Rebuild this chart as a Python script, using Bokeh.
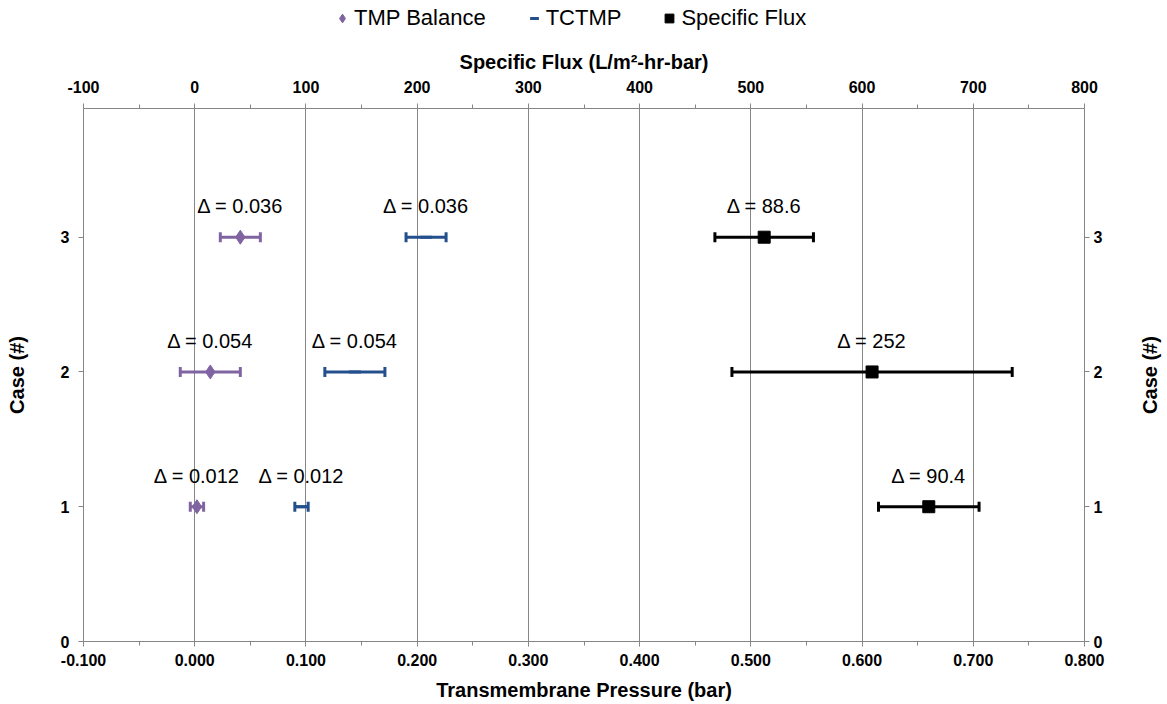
import math
from bokeh.plotting import figure
from bokeh.layouts import column, row
from bokeh.models import (Range1d, LinearAxis, FixedTicker, NumeralTickFormatter, Whisker,
                          TeeHead, ColumnDataSource, Legend, LegendItem, Grid)
from bokeh.core.properties import value
from bokeh.embed import file_html
from bokeh.resources import INLINE

# ---- data ----
cases = [1, 2, 3]
tmp_center = [0.002, 0.014, 0.041]
tmp_delta = [0.012, 0.054, 0.036]
tctmp_center = [0.096, 0.144, 0.208]
tctmp_delta = [0.012, 0.054, 0.036]
flux_center = [660, 609, 512]
flux_delta = [90.4, 252, 88.6]

x_ticks = [-0.1, 0.0, 0.1, 0.2, 0.3, 0.4, 0.5, 0.6, 0.7, 0.8]
x_minor = [-0.05, 0.05, 0.15, 0.25, 0.35, 0.45, 0.55, 0.65, 0.75]
flux_ticks = [-100, 0, 100, 200, 300, 400, 500, 600, 700, 800]
flux_minor = [-50, 50, 150, 250, 350, 450, 550, 650, 750]
y_ticks = [0, 1, 2, 3]
series_names = ["TMP Balance", "TCTMP", "Specific Flux"]

FONT = "Liberation Sans"
AX = "#868686"
PURPLE = "#8064A2"
BLUE = "#23508C"
BLACK = "#000000"

LEG_H = 36
TITLE_W = 36
Y_MAX = 3.955


def make_src(center, delta):
    return ColumnDataSource(dict(
        case=cases, c=center,
        lo=[c - d / 2 for c, d in zip(center, delta)],
        hi=[c + d / 2 for c, d in zip(center, delta)],
        lab=["\u0394 = %s" % format(d, "g") for d in delta],
    ))


def bare(fig):
    fig.outline_line_color = None
    fig.background_fill_color = "white"
    fig.border_fill_color = "white"
    fig.center = [r for r in fig.center if not isinstance(r, Grid)]


src_tmp = make_src(tmp_center, tmp_delta)
src_tc = make_src(tctmp_center, tctmp_delta)
src_fx = make_src(flux_center, flux_delta)

# ---------------- main chart ----------------
p = figure(width=1166 - TITLE_W, height=703 - LEG_H, x_range=Range1d(-0.1, 0.8),
           y_range=Range1d(0, Y_MAX),
           output_backend="svg", toolbar_location=None,
           x_axis_location=None, y_axis_location=None,
           min_border_left=83, min_border_right=1166 - TITLE_W - 1084,
           min_border_top=108 - LEG_H, min_border_bottom=61)
p.extra_x_ranges = {"flux": Range1d(-100, 800)}
bare(p)


def style_axis(ax):
    ax.axis_line_color = AX
    ax.major_tick_line_color = AX
    ax.minor_tick_line_color = AX
    ax.major_tick_in = 0
    ax.major_tick_out = 5
    ax.minor_tick_in = 0
    ax.minor_tick_out = 4
    ax.major_label_text_font = FONT
    ax.major_label_text_font_size = "16px"
    ax.major_label_text_font_style = "bold"
    ax.major_label_text_color = "black"
    ax.axis_label_text_font = FONT
    ax.axis_label_text_font_size = "20px"
    ax.axis_label_text_font_style = "bold"
    ax.axis_label_text_color = "black"


xt = FixedTicker(ticks=x_ticks, minor_ticks=x_minor)
bottom = LinearAxis(ticker=xt, formatter=NumeralTickFormatter(format="0.000"),
                    axis_label="Transmembrane Pressure (bar)")
style_axis(bottom)
bottom.major_label_standoff = 7
bottom.axis_label_standoff = 10
p.add_layout(bottom, "below")

top = LinearAxis(x_range_name="flux", ticker=FixedTicker(ticks=flux_ticks, minor_ticks=flux_minor),
                 formatter=NumeralTickFormatter(format="0"),
                 axis_label="Specific Flux (L/m\u00b2-hr-bar)")
style_axis(top)
top.major_label_standoff = 11
top.axis_label_standoff = 5
p.add_layout(top, "above")

left = LinearAxis(ticker=FixedTicker(ticks=y_ticks, minor_ticks=[]), axis_label="Case (#)")
style_axis(left)
left.major_label_standoff = 9
left.axis_label_standoff = 30
p.add_layout(left, "left")

right = LinearAxis(ticker=FixedTicker(ticks=y_ticks, minor_ticks=[]))
style_axis(right)
right.major_label_standoff = 4
p.add_layout(right, "right")

p.add_layout(Grid(dimension=0, ticker=xt, grid_line_color=AX, grid_line_width=1))

for src, col, rng in [(src_tmp, PURPLE, "default"), (src_tc, BLUE, "default"), (src_fx, BLACK, "flux")]:
    w = Whisker(base="case", lower="lo", upper="hi", dimension="width", source=src,
                line_color=col, line_width=3,
                lower_head=TeeHead(size=10, line_color=col, line_width=3),
                upper_head=TeeHead(size=10, line_color=col, line_width=3))
    if rng != "default":
        w.x_range_name = rng
    p.add_layout(w)

p.scatter(x="c", y="case", source=src_tmp, marker="diamond", size=14,
          fill_color=PURPLE, line_color=PURPLE)
p.scatter(x="c", y="case", source=src_tc, marker="dash", size=12,
          line_color=BLUE, line_width=3)
p.scatter(x="c", y="case", source=src_fx, marker="square", size=12,
          fill_color=BLACK, line_color=BLACK, x_range_name="flux")

for src, rng in [(src_tmp, "default"), (src_tc, "default"), (src_fx, "flux")]:
    kw = {} if rng == "default" else {"x_range_name": rng}
    p.text(x="c", y="case", text="lab", source=src, text_align="center",
           text_baseline="alphabetic", y_offset=-31, text_font=value(FONT),
           text_font_size="20px", text_color="black", **kw)

# ---------------- right-hand axis title ----------------
rt = figure(width=TITLE_W, height=703 - LEG_H, x_range=Range1d(0, 1), y_range=Range1d(0, Y_MAX),
            output_backend="svg", toolbar_location=None,
            x_axis_location=None, y_axis_location=None,
            min_border_left=0, min_border_right=0,
            min_border_top=108 - LEG_H, min_border_bottom=61)
bare(rt)
rt.text(x=[0.55], y=[Y_MAX / 2], text=["Case (#)"], angle=math.pi / 2,
        text_align="center", text_baseline="middle", text_font=value(FONT),
        text_font_size="20px", text_font_style="bold", text_color="black")

# ---------------- legend row ----------------
lf = figure(width=1166, height=LEG_H, x_range=Range1d(0, 1), y_range=Range1d(0, 1),
            output_backend="svg", toolbar_location=None,
            x_axis_location=None, y_axis_location=None, min_border=0)
bare(lf)
# legend proxies: one hidden point each, outside the visible range
g1 = lf.scatter(x=[5], y=[5], marker="diamond", fill_color=PURPLE, line_color=PURPLE)
g2 = lf.scatter(x=[5], y=[5], marker="dash", line_color=BLUE, line_width=3)
g3 = lf.scatter(x=[5], y=[5], marker="square", fill_color=BLACK, line_color=BLACK)
legend = Legend(items=[LegendItem(label=series_names[0], renderers=[g1]),
                       LegendItem(label=series_names[1], renderers=[g2]),
                       LegendItem(label=series_names[2], renderers=[g3])],
                orientation="horizontal", location=(330, 5),
                label_text_font=FONT, label_text_font_size="22px", label_text_color="black",
                glyph_width=24, glyph_height=22, spacing=36, label_standoff=0,
                border_line_color=None, background_fill_alpha=0, padding=0, margin=0)
lf.add_layout(legend, "center")

layout = column(lf, row(p, rt, spacing=0), spacing=0)
open("out.html", "w").write(file_html(layout, INLINE))
